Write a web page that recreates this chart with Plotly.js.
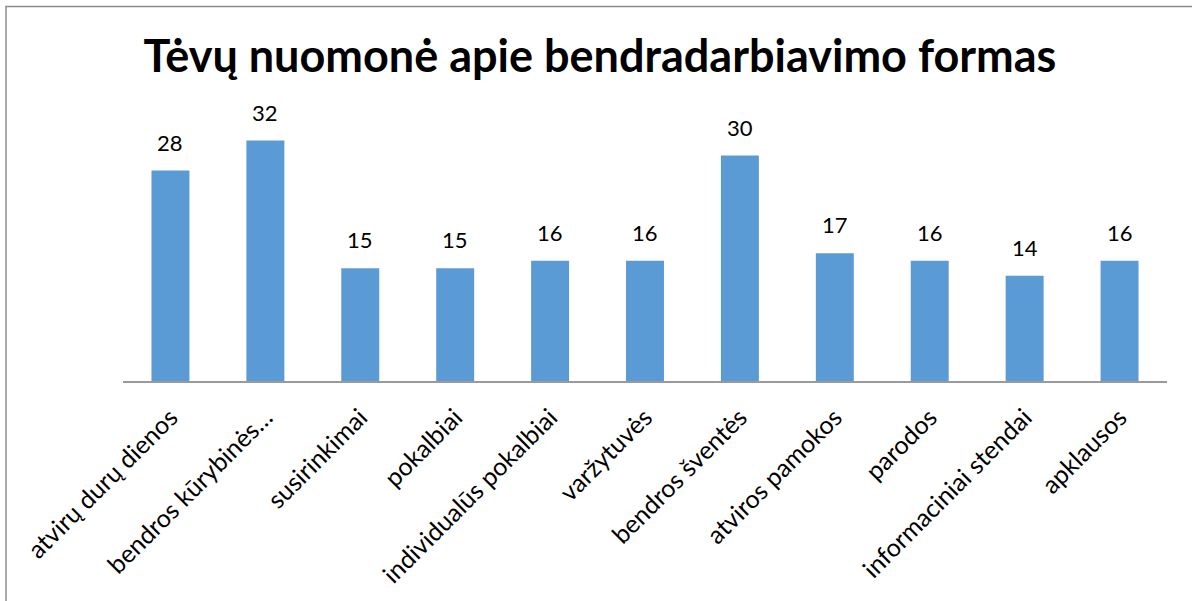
<!DOCTYPE html>
<html>
<head>
<meta charset="utf-8">
<script src="https://cdn.plot.ly/plotly-3.0.1.min.js"></script>
<style>html,body{margin:0;padding:0;background:#fff;}#chart{width:1192px;height:601px;}</style>
</head>
<body>
<div id="chart"></div>
<script>
const categories = ["atvirų durų dienos","bendros kūrybinės…","susirinkimai","pokalbiai","individualūs pokalbiai","varžytuvės","bendros šventės","atviros pamokos","parodos","informaciniai stendai","apklausos"];
const values = [28, 32, 15, 15, 16, 16, 30, 17, 16, 14, 16];
const chartTitle = "Tėvų nuomonė apie bendradarbiavimo formas";

const FONT = "Lato, 'Open Sans', sans-serif";
const W = 1192, H = 601;
const m = {l: 123, r: 25, t: 118, b: 220};
const pw = W - m.l - m.r, ph = H - m.t - m.b;
const px = v => (v - m.l) / pw;
const py = v => (H - m.b - v) / ph;

const trace = {
  type: 'bar',
  x: categories,
  y: values,
  marker: {color: '#5B9BD5'},
  hoverinfo: 'x+y'
};

const annotations = categories.map((c, i) => ({
  x: c, y: values[i], xref: 'x', yref: 'y',
  text: String(values[i]), showarrow: false,
  yanchor: 'bottom', yshift: 13,
  font: {family: FONT, size: 22, color: '#000'}
}));

const borderLine = {color: '#8c8c8c', width: 1.5};

const layout = {
  width: W, height: H,
  margin: m,
  paper_bgcolor: '#fff', plot_bgcolor: '#fff',
  bargap: 0.6,
  showlegend: false,
  title: {
    text: '<b>' + chartTitle + '</b>',
    font: {family: FONT, size: 45, color: '#000'},
    x: 600 / W, xref: 'container', xanchor: 'center',
    y: 1 - 56 / H, yanchor: 'middle'
  },
  xaxis: {
    type: 'category',
    tickangle: -45,
    tickfont: {family: FONT, size: 25, color: '#000'},
    showline: true, linecolor: '#9a9a9a', linewidth: 2,
    ticks: '', showgrid: false, zeroline: false,
    ticklabelstandoff: 10
  },
  yaxis: {
    range: [0, 35],
    visible: false, showgrid: false, zeroline: false
  },
  annotations: annotations,
  shapes: [
    {type: 'line', xref: 'paper', yref: 'paper', x0: px(5.5), x1: px(1192), y0: py(6.5), y1: py(6.5), line: borderLine, layer: 'below'},
    {type: 'line', xref: 'paper', yref: 'paper', x0: px(6), x1: px(6), y0: py(6), y1: py(601), line: borderLine, layer: 'below'}
  ]
};

Plotly.newPlot('chart', [trace], layout, {displayModeBar: false, staticPlot: true});
</script>
</body>
</html>
